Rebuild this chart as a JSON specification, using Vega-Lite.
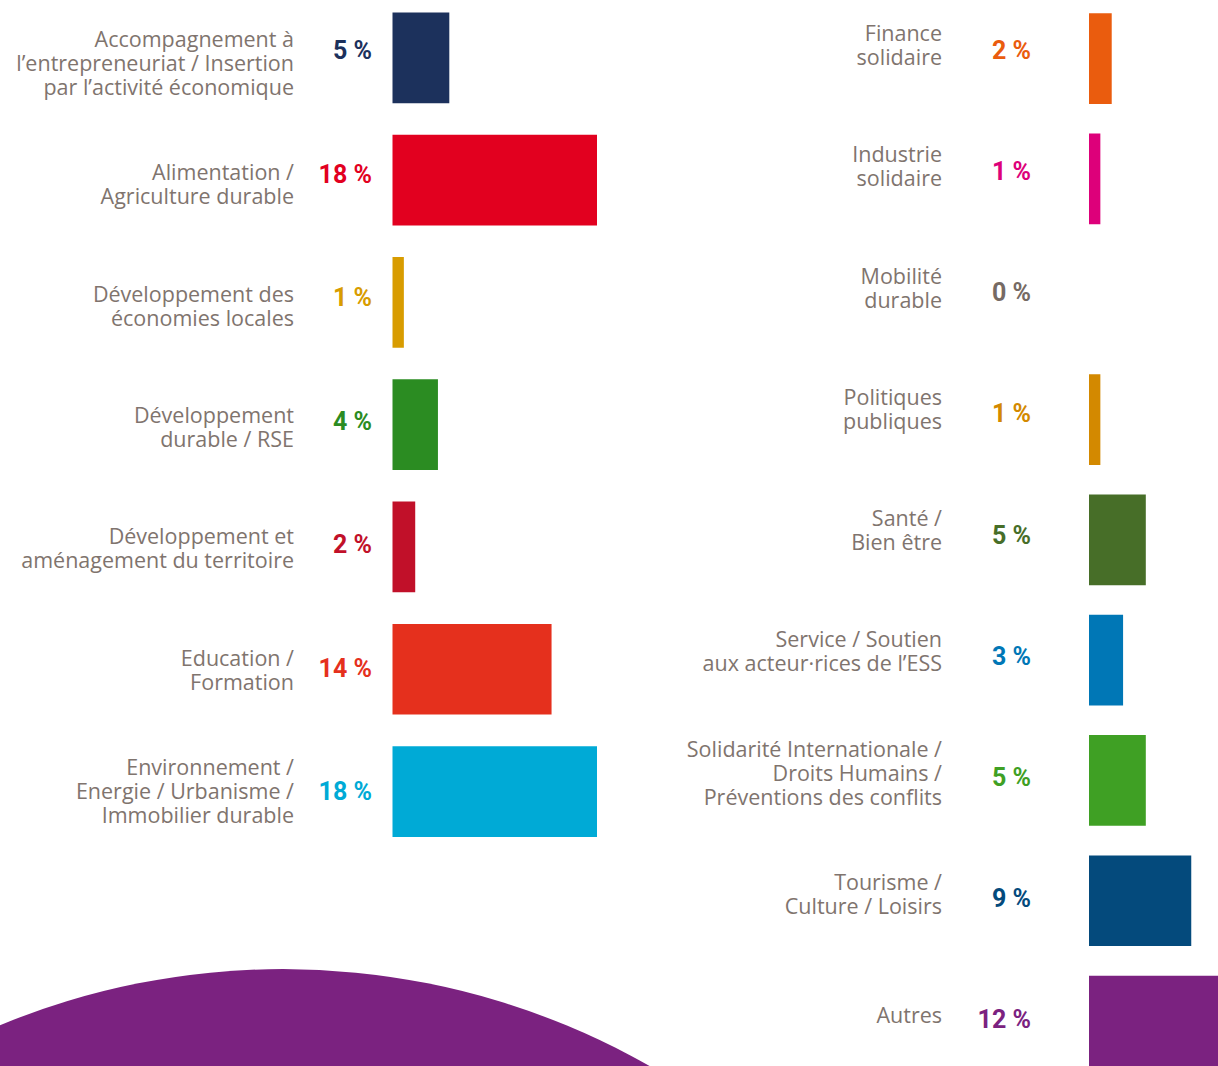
{
  "$schema": "https://vega.github.io/schema/vega-lite/v6.json",
  "width": 1218,
  "height": 1066,
  "autosize": {"type": "none"},
  "padding": 0,
  "background": "#ffffff",
  "config": {
    "view": {"stroke": null},
    "locale": {"number": {"decimal": ",", "thousands": " ", "grouping": [3], "currency": ["", " %"]}}
  },
  "data": {
    "values": [
      {"colonne": "gauche", "rang": 1, "domaine": "Accompagnement à\nl’entrepreneuriat / Insertion\npar l’activité économique", "part": 5},
      {"colonne": "gauche", "rang": 2, "domaine": "Alimentation /\nAgriculture durable", "part": 18},
      {"colonne": "gauche", "rang": 3, "domaine": "Développement des\néconomies locales", "part": 1},
      {"colonne": "gauche", "rang": 4, "domaine": "Développement\ndurable / RSE", "part": 4},
      {"colonne": "gauche", "rang": 5, "domaine": "Développement et\naménagement du territoire", "part": 2},
      {"colonne": "gauche", "rang": 6, "domaine": "Education /\nFormation", "part": 14},
      {"colonne": "gauche", "rang": 7, "domaine": "Environnement /\nEnergie / Urbanisme /\nImmobilier durable", "part": 18},
      {"colonne": "droite", "rang": 1, "domaine": "Finance\nsolidaire", "part": 2},
      {"colonne": "droite", "rang": 2, "domaine": "Industrie\nsolidaire", "part": 1},
      {"colonne": "droite", "rang": 3, "domaine": "Mobilité\ndurable", "part": 0},
      {"colonne": "droite", "rang": 4, "domaine": "Politiques\npubliques", "part": 1},
      {"colonne": "droite", "rang": 5, "domaine": "Santé /\nBien être", "part": 5},
      {"colonne": "droite", "rang": 6, "domaine": "Service / Soutien\naux acteur·rices de l’ESS", "part": 3},
      {"colonne": "droite", "rang": 7, "domaine": "Solidarité Internationale /\nDroits Humains /\nPréventions des conflits", "part": 5},
      {"colonne": "droite", "rang": 8, "domaine": "Tourisme /\nCulture / Loisirs", "part": 9},
      {"colonne": "droite", "rang": 9, "domaine": "Autres", "part": 12}
    ]
  },
  "encoding": {
    "color": {
      "field": "domaine",
      "type": "nominal",
      "legend": null,
      "scale": {
        "domain": [
          "Accompagnement à\nl’entrepreneuriat / Insertion\npar l’activité économique",
          "Alimentation /\nAgriculture durable",
          "Développement des\néconomies locales",
          "Développement\ndurable / RSE",
          "Développement et\naménagement du territoire",
          "Education /\nFormation",
          "Environnement /\nEnergie / Urbanisme /\nImmobilier durable",
          "Finance\nsolidaire",
          "Industrie\nsolidaire",
          "Mobilité\ndurable",
          "Politiques\npubliques",
          "Santé /\nBien être",
          "Service / Soutien\naux acteur·rices de l’ESS",
          "Solidarité Internationale /\nDroits Humains /\nPréventions des conflits",
          "Tourisme /\nCulture / Loisirs",
          "Autres"
        ],
        "range": [
          "#1c315c", "#e2001f", "#d89c00", "#2b8c22", "#c11029", "#e5301d", "#00aad6",
          "#ea5c0e", "#dd007a", "#766a64", "#d38900", "#476e28", "#0077b6", "#3fa024", "#044a7c", "#7b2280"
        ]
      }
    }
  },
  "layer": [
    {
      "data": {"values": [{"forme": "décor"}]},
      "mark": {"type": "point", "shape": "circle", "filled": true, "opacity": 1, "size": 2202256},
      "encoding": {
        "x": {"datum": -9.64, "type": "quantitative", "scale": {"domain": [0, 18], "range": [392.5, 597], "nice": false, "zero": false}, "axis": null},
        "y": {"datum": 14.53, "type": "quantitative", "scale": {"domain": [1, 7], "range": [57.85, 791], "nice": false, "zero": false}, "axis": null},
        "color": {"value": "#7b2280"}
      }
    },
    {
      "transform": [{"filter": "datum.colonne == 'gauche'"}],
      "mark": {"type": "bar"},
      "encoding": {
        "x": {"field": "part", "type": "quantitative", "scale": {"domain": [0, 18], "range": [392.5, 597], "nice": false}, "axis": null},
        "y": {"field": "rang", "type": "ordinal", "scale": {"type": "band", "domain": [1, 2, 3, 4, 5, 6, 7], "range": [12.5, 836.9], "paddingInner": 0.258, "paddingOuter": 0}, "axis": null}
      }
    },
    {
      "transform": [{"filter": "datum.colonne == 'gauche'"}],
      "mark": {"type": "text", "align": "right", "baseline": "middle", "dx": -20.5, "font": "Roboto", "fontWeight": "bold", "fontSize": 25},
      "encoding": {
        "x": {"datum": 0, "type": "quantitative", "scale": {"domain": [0, 18], "range": [392.5, 597], "nice": false}, "axis": null},
        "y": {"field": "rang", "type": "quantitative", "scale": {"domain": [1, 7], "range": [51, 792], "nice": false, "zero": false}, "axis": null},
        "text": {"field": "part", "type": "quantitative", "format": "$d"}
      }
    },
    {
      "transform": [{"filter": "datum.colonne == 'gauche'"}],
      "encoding": {
        "x": {"datum": 0, "type": "quantitative", "scale": {"domain": [0, 18], "range": [392.5, 597], "nice": false}, "axis": null},
        "y": {"field": "rang", "type": "quantitative", "scale": {"domain": [1, 7], "range": [65, 792.8], "nice": false, "zero": false}, "axis": null},
        "text": {"field": "domaine", "type": "nominal"},
        "color": {"value": "#7f746e"}
      },
      "layer": [
        {
          "transform": [{"filter": "length(split(datum.domaine, '\\n')) == 1"}],
          "mark": {"type": "text", "align": "right", "baseline": "middle", "dx": -98.5, "dy": 0, "font": "Open Sans", "fontSize": 21.5, "lineBreak": "\n", "lineHeight": 24}
        },
        {
          "transform": [{"filter": "length(split(datum.domaine, '\\n')) == 2"}],
          "mark": {"type": "text", "align": "right", "baseline": "middle", "dx": -98.5, "dy": -12, "font": "Open Sans", "fontSize": 21.5, "lineBreak": "\n", "lineHeight": 24}
        },
        {
          "transform": [{"filter": "length(split(datum.domaine, '\\n')) == 3"}],
          "mark": {"type": "text", "align": "right", "baseline": "middle", "dx": -98.5, "dy": -24, "font": "Open Sans", "fontSize": 21.5, "lineBreak": "\n", "lineHeight": 24}
        }
      ]
    },
    {
      "transform": [{"filter": "datum.colonne == 'droite'"}],
      "mark": {"type": "bar"},
      "encoding": {
        "x": {"field": "part", "type": "quantitative", "scale": {"domain": [0, 18], "range": [1089, 1293.5], "nice": false}, "axis": null},
        "y": {"field": "rang", "type": "ordinal", "scale": {"type": "band", "domain": [1, 2, 3, 4, 5, 6, 7, 8, 9], "range": [13.3, 1066.4], "paddingInner": 0.246, "paddingOuter": 0}, "axis": null}
      }
    },
    {
      "transform": [{"filter": "datum.colonne == 'droite'"}],
      "mark": {"type": "text", "align": "right", "baseline": "middle", "dx": -58, "font": "Roboto", "fontWeight": "bold", "fontSize": 25},
      "encoding": {
        "x": {"datum": 0, "type": "quantitative", "scale": {"domain": [0, 18], "range": [1089, 1293.5], "nice": false}, "axis": null},
        "y": {"field": "rang", "type": "quantitative", "scale": {"domain": [1, 9], "range": [51, 1020], "nice": false, "zero": false}, "axis": null},
        "text": {"field": "part", "type": "quantitative", "format": "$d"}
      }
    },
    {
      "transform": [{"filter": "datum.colonne == 'droite'"}],
      "encoding": {
        "x": {"datum": 0, "type": "quantitative", "scale": {"domain": [0, 18], "range": [1089, 1293.5], "nice": false}, "axis": null},
        "y": {"field": "rang", "type": "quantitative", "scale": {"domain": [1, 9], "range": [47, 1017], "nice": false, "zero": false}, "axis": null},
        "text": {"field": "domaine", "type": "nominal"},
        "color": {"value": "#7f746e"}
      },
      "layer": [
        {
          "transform": [{"filter": "length(split(datum.domaine, '\\n')) == 1"}],
          "mark": {"type": "text", "align": "right", "baseline": "middle", "dx": -147, "dy": 0, "font": "Open Sans", "fontSize": 21.5, "lineBreak": "\n", "lineHeight": 24}
        },
        {
          "transform": [{"filter": "length(split(datum.domaine, '\\n')) == 2"}],
          "mark": {"type": "text", "align": "right", "baseline": "middle", "dx": -147, "dy": -12, "font": "Open Sans", "fontSize": 21.5, "lineBreak": "\n", "lineHeight": 24}
        },
        {
          "transform": [{"filter": "length(split(datum.domaine, '\\n')) == 3"}],
          "mark": {"type": "text", "align": "right", "baseline": "middle", "dx": -147, "dy": -24, "font": "Open Sans", "fontSize": 21.5, "lineBreak": "\n", "lineHeight": 24}
        }
      ]
    }
  ],
  "resolve": {"scale": {"x": "independent", "y": "independent"}}
}
